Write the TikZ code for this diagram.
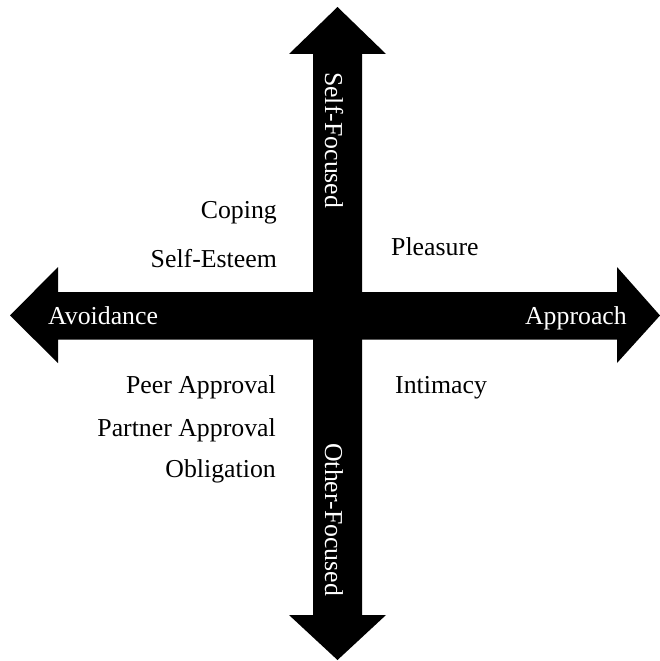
\documentclass[tikz,border=0pt]{standalone}
\usepackage{fontspec}
\setmainfont{Liberation Serif}
\begin{document}
\begin{tikzpicture}[x=1pt,y=-1pt,
  arrowshape/.style={fill=black,draw=none},
  axislabel/.style={text=white,inner sep=0pt,font=\fontsize{25.8}{30}\selectfont},
  motive/.style={text=black,inner sep=0pt,font=\fontsize{25.8}{30}\selectfont}]
\useasboundingbox (0,0) rectangle (660,661);
% horizontal double arrow: avoidance <-> approach
\fill[arrowshape] (10,315.5) -- (58,267) -- (58,292) -- (617,292) -- (617,267)
  -- (660,315.5) -- (617,363) -- (617,339.5) -- (58,339.5) -- (58,363) -- cycle;
% vertical double arrow: self-focused <-> other-focused
\fill[arrowshape] (337.5,7) -- (386,54) -- (362,54) -- (362,615) -- (386,615)
  -- (337.5,660) -- (289,615) -- (313,615) -- (313,54) -- (289,54) -- cycle;
% axis labels
\node[axislabel,anchor=base west] (avoid) at (48,324) {Avoidance};
\node[axislabel,anchor=base east] (appr) at (627,324) {Approach};
\node[axislabel,anchor=base west,rotate=-90] (self) at (325,72) {Self-Focused};
\node[axislabel,anchor=base west,rotate=-90] (other) at (325,443) {Other-Focused};
% motives, upper left
\node[motive,anchor=base east] (coping) at (277,218) {Coping};
\node[motive,anchor=base east] (esteem) at (277,267) {Self-Esteem};
% upper right
\node[motive,anchor=base west] (pleasure) at (391,255) {Pleasure};
% lower left
\node[motive,anchor=base east] (peer) at (276,393) {Peer Approval};
\node[motive,anchor=base east] (partner) at (276,436) {Partner Approval};
\node[motive,anchor=base east] (oblig) at (276,477) {Obligation};
% lower right
\node[motive,anchor=base west] (intimacy) at (395,393) {Intimacy};
\end{tikzpicture}
\end{document}
